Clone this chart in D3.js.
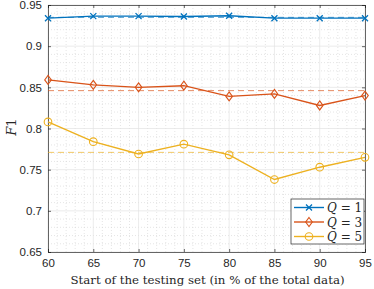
<!DOCTYPE html>
<html>
<head>
<meta charset="utf-8">
<script src="https://cdn.jsdelivr.net/npm/d3@7"></script>
<style>
body { margin: 0; background: #fff; }
svg { display: block; }
</style>
</head>
<body>
<svg id="chart" width="374" height="289"></svg>
<script>
// start of testing set (% of total data)
var starts = [60, 65, 70, 75, 80, 85, 90, 95];
var f1Q1 = [0.934, 0.9365, 0.9365, 0.936, 0.937, 0.934, 0.934, 0.934];
var f1Q3 = [0.859, 0.853, 0.850, 0.852, 0.839, 0.842, 0.828, 0.840];
var f1Q5 = [0.808, 0.784, 0.769, 0.781, 0.768, 0.738, 0.753, 0.765];
// averages shown as dashed lines
var meanQ = [0.935, 0.846, 0.771];
var seriesNames = ["Q = 1", "Q = 3", "Q = 5"];
var xTicks = [60, 65, 70, 75, 80, 85, 90, 95];
var yTicks = [0.65, 0.7, 0.75, 0.8, 0.85, 0.9, 0.95];

var colors = ["#0072BD", "#D95319", "#EDB120"];
var markers = ["x", "diamond", "circle"];

var svg = d3.select("#chart");
var pLeft = 48, pRight = 365, pTop = 5, pBottom = 252;

var x = d3.scaleLinear().domain([60, 95]).range([pLeft, pRight]);
var y = d3.scaleLinear().domain([0.65, 0.95]).range([pBottom, pTop]);

// minor grid (dotted)
var minorX = d3.range(60, 96, 1).filter(v => v % 5 != 0);
var minorY = d3.range(65, 96, 1).map(v => v / 100).filter(v => Math.round(v * 100) % 5 != 0);

svg.append("g").selectAll("line").data(minorX).enter().append("line")
    .attr("x1", d => x(d)).attr("x2", d => x(d))
    .attr("y1", pTop).attr("y2", pBottom)
    .attr("stroke", "#d4d4d4").attr("stroke-width", 0.6)
    .attr("stroke-dasharray", "1,2");
svg.append("g").selectAll("line").data(minorY).enter().append("line")
    .attr("x1", pLeft).attr("x2", pRight)
    .attr("y1", d => y(d)).attr("y2", d => y(d))
    .attr("stroke", "#d4d4d4").attr("stroke-width", 0.6)
    .attr("stroke-dasharray", "1,2");

// major grid
svg.append("g").selectAll("line").data(xTicks).enter().append("line")
    .attr("x1", d => x(d)).attr("x2", d => x(d))
    .attr("y1", pTop).attr("y2", pBottom)
    .attr("stroke", "#e3e3e3").attr("stroke-width", 0.7);
svg.append("g").selectAll("line").data(yTicks).enter().append("line")
    .attr("x1", pLeft).attr("x2", pRight)
    .attr("y1", d => y(d)).attr("y2", d => y(d))
    .attr("stroke", "#e3e3e3").attr("stroke-width", 0.7);

// axes
var tickFmt = d => String(d);
var xAxis = svg.append("g").attr("transform", "translate(0," + pBottom + ")")
    .call(d3.axisBottom(x).tickValues(xTicks).tickSize(-3).tickPadding(7).tickFormat(tickFmt));
var xAxisTop = svg.append("g").attr("transform", "translate(0," + pTop + ")")
    .call(d3.axisTop(x).tickValues(xTicks).tickSize(-3).tickFormat(""));
var yAxis = svg.append("g").attr("transform", "translate(" + pLeft + ",0)")
    .call(d3.axisLeft(y).tickValues(yTicks).tickSize(-3).tickPadding(6).tickFormat(tickFmt));
var yAxisRight = svg.append("g").attr("transform", "translate(" + pRight + ",0)")
    .call(d3.axisRight(y).tickValues(yTicks).tickSize(-3).tickFormat(""));

[xAxis, xAxisTop, yAxis, yAxisRight].forEach(function (g) {
    g.select(".domain").attr("stroke", "#262626").attr("stroke-width", 0.7);
    g.selectAll(".tick line").attr("stroke", "#262626").attr("stroke-width", 0.7);
    g.selectAll(".tick text").attr("fill", "#262626")
        .style("font-family", "'Liberation Sans', Arial, sans-serif").style("font-size", "11.5px");
});

// mean lines (dashed)
svg.append("g").selectAll("line").data(meanQ).enter().append("line")
    .attr("x1", x(60)).attr("x2", x(95))
    .attr("y1", d => y(d)).attr("y2", d => y(d))
    .attr("stroke", (d, i) => colors[i]).attr("stroke-width", 0.9)
    .attr("opacity", 0.75)
    .attr("stroke-dasharray", "6,4");

function drawMarker(g, type, color) {
    if (type == "x") {
        g.append("path").attr("d", "M-3,-3L3,3M-3,3L3,-3")
            .attr("stroke", color).attr("stroke-width", 1.3).attr("fill", "none");
    } else if (type == "diamond") {
        g.append("path").attr("d", "M0,-4.5L3.3,0L0,4.5L-3.3,0Z")
            .attr("stroke", color).attr("stroke-width", 1.1).attr("fill", "none");
    } else {
        g.append("circle").attr("r", 3.8)
            .attr("stroke", color).attr("stroke-width", 1.1).attr("fill", "none");
    }
}

var allSeries = [f1Q1, f1Q3, f1Q5];
var line = d3.line().x((d, i) => x(starts[i])).y(d => y(d));

allSeries.forEach(function (vals, k) {
    svg.append("path").datum(vals)
        .attr("d", line)
        .attr("fill", "none")
        .attr("stroke", colors[k])
        .attr("stroke-width", 1.4);
    vals.forEach(function (v, i) {
        var g = svg.append("g").attr("transform", "translate(" + x(starts[i]) + "," + y(v) + ")");
        drawMarker(g, markers[k], colors[k]);
    });
});

// axis labels
var serif = "'DejaVu Serif', 'Liberation Serif', serif";
svg.append("text")
    .attr("x", (pLeft + pRight) / 2 + 1).attr("y", 284)
    .attr("text-anchor", "middle")
    .style("font-family", serif)
    .style("font-size", "11.8px")
    .attr("fill", "#262626")
    .text("Start of the testing set (in % of the total data)");

svg.append("text")
    .attr("transform", "translate(16," + 127 + ") rotate(-90)")
    .attr("text-anchor", "middle")
    .style("font-family", serif)
    .style("font-size", "13px")
    .attr("fill", "#262626")
    .html("<tspan font-style='italic'>F</tspan>1");

// legend
var lg = svg.append("g").attr("transform", "translate(291,199)");
lg.append("rect").attr("width", 73).attr("height", 45)
    .attr("fill", "#fff").attr("stroke", "#262626").attr("stroke-width", 0.7);
seriesNames.forEach(function (name, k) {
    var ry = 8.5 + k * 14.5;
    lg.append("line").attr("x1", 3).attr("x2", 33).attr("y1", ry).attr("y2", ry)
        .attr("stroke", colors[k]).attr("stroke-width", 1.4);
    drawMarker(lg.append("g").attr("transform", "translate(18," + ry + ")"), markers[k], colors[k]);
    var t = lg.append("text").attr("x", 36).attr("y", ry + 4.5)
        .style("font-family", serif)
        .style("font-size", "12px")
        .attr("fill", "#262626");
    var parts = name.split(" = ");
    t.append("tspan").attr("font-style", "italic").text(parts[0]);
    t.append("tspan").text(" = " + parts[1]);
});
</script>
</body>
</html>
